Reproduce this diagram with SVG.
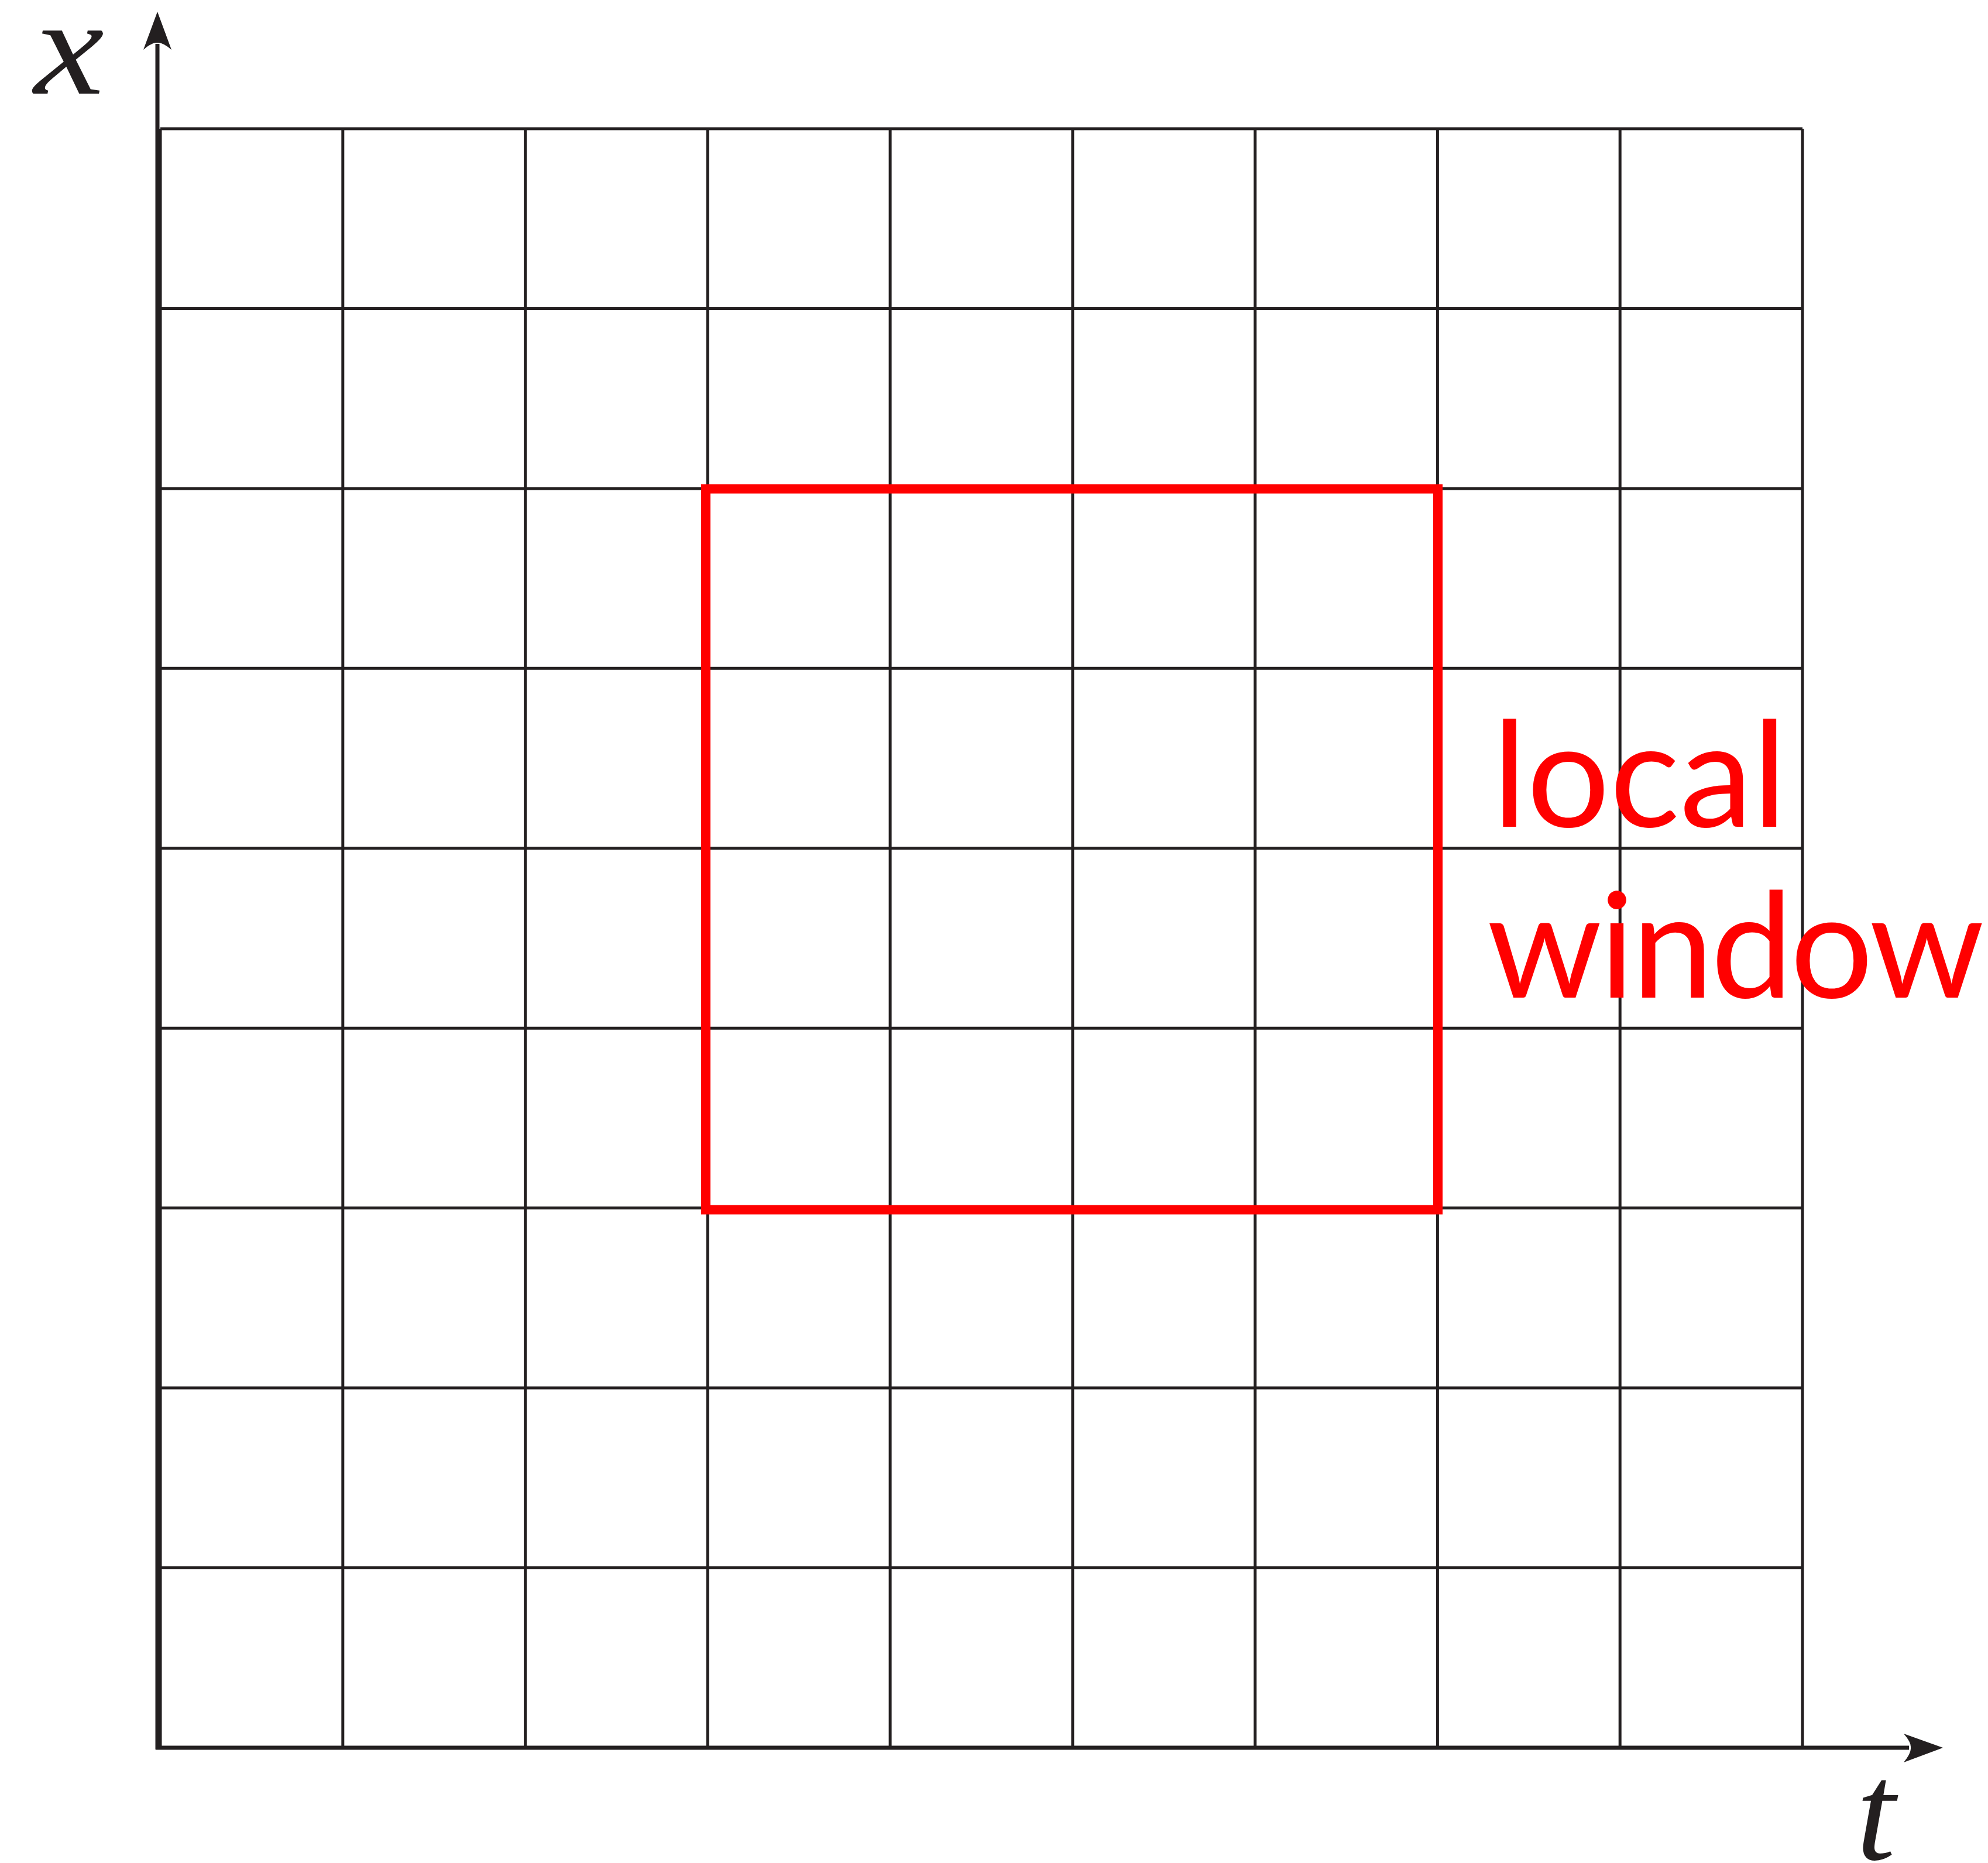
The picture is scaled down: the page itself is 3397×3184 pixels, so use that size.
<svg xmlns="http://www.w3.org/2000/svg" width="3397" height="3184" viewBox="0 0 3397 3184">
<style>
.grid{stroke:#231F20;stroke-width:5;fill:none}
.axis{stroke:#231F20;stroke-width:7;fill:none}
.head{fill:#231F20;stroke:none}
.math{font-family:"Liberation Serif",serif;font-style:italic;fill:#231F20}
.lbl{font-family:Lato,"Noto Sans",sans-serif;font-size:250px;fill:#FF0000}
</style>
<rect width="3397" height="3184" fill="#FFFFFF"/>
<g id="grid" class="grid">
<line x1="274" y1="220" x2="3080" y2="220"/>
<line x1="274" y1="527.4" x2="3080" y2="527.4"/>
<line x1="274" y1="834.9" x2="3080" y2="834.9"/>
<line x1="274" y1="1142.3" x2="3080" y2="1142.3"/>
<line x1="274" y1="1449.8" x2="3080" y2="1449.8"/>
<line x1="274" y1="1757.2" x2="3080" y2="1757.2"/>
<line x1="274" y1="2064.6" x2="3080" y2="2064.6"/>
<line x1="274" y1="2372.1" x2="3080" y2="2372.1"/>
<line x1="274" y1="2679.5" x2="3080" y2="2679.5"/>
<line x1="274" y1="2987" x2="3080" y2="2987"/>
<line x1="274" y1="220" x2="274" y2="2987"/>
<line x1="585.8" y1="220" x2="585.8" y2="2987"/>
<line x1="897.6" y1="220" x2="897.6" y2="2987"/>
<line x1="1209.3" y1="220" x2="1209.3" y2="2987"/>
<line x1="1521.1" y1="220" x2="1521.1" y2="2987"/>
<line x1="1832.9" y1="220" x2="1832.9" y2="2987"/>
<line x1="2144.7" y1="220" x2="2144.7" y2="2987"/>
<line x1="2456.4" y1="220" x2="2456.4" y2="2987"/>
<line x1="2768.2" y1="220" x2="2768.2" y2="2987"/>
<line x1="3080" y1="220" x2="3080" y2="2987"/>
</g>
<g id="connectors">
<g id="x-axis">
<line class="axis" x1="266" y1="2987" x2="3262" y2="2987"/>
<path class="head" d="M3320,2987 L3253,2963 Q3266,2978 3265,2987 Q3266,2996 3253,3012 Z"/>
</g>
<g id="y-axis">
<line class="axis" x1="269" y1="2990" x2="269" y2="75"/>
<path class="head" d="M269,20 L293,85 Q278,72 269,73 Q260,72 245,85 Z"/>
</g>
</g>
<g id="local-window">
<rect x="1206" y="835.5" width="1251" height="1232" fill="none" stroke="#FF0000" stroke-width="16"/>
<text class="lbl" x="2550" y="1413">local</text>
<text class="lbl" x="2541" y="1705" letter-spacing="-4.5">window</text>
</g>
<g id="labels">
<text class="math" font-size="235" transform="translate(58,160) scale(1.15,1)">x</text>
<text class="math" font-size="240" x="3172" y="3178">t</text>
</g>
</svg>
